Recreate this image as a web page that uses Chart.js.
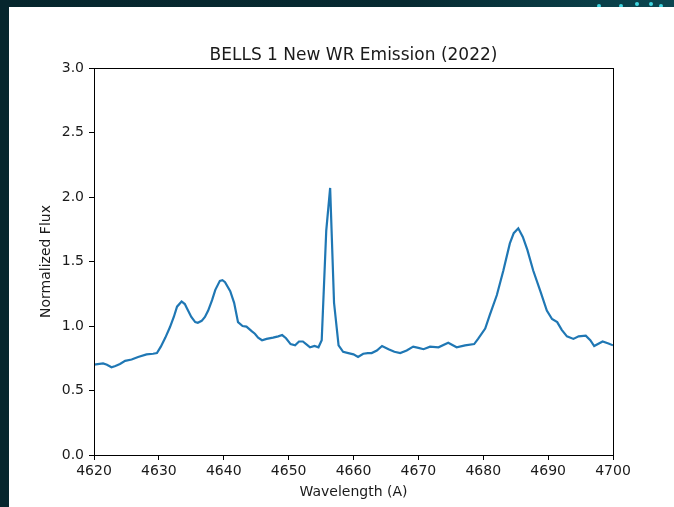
<!DOCTYPE html>
<html>
<head>
<meta charset="utf-8">
<script src="https://cdn.jsdelivr.net/npm/chart.js@4/dist/chart.umd.min.js"></script>
<style>
  html, body { margin: 0; padding: 0; }
  body {
    width: 674px; height: 507px; overflow: hidden; position: relative;
    background: linear-gradient(90deg, #06262d 0%, #072a31 60%, #0b4650 100%);
  }
  .dot { position: absolute; width: 4px; height: 4px; border-radius: 50%; background: #3fd6e0; }
  #panel { position: absolute; left: 9px; top: 7px; width: 665px; height: 500px; background: #fff; }
  canvas { display: block; }
</style>
</head>
<body>
<div class="dot" style="left:597px;top:4px"></div>
<div class="dot" style="left:619px;top:4px"></div>
<div class="dot" style="left:635px;top:2px"></div>
<div class="dot" style="left:649px;top:2px"></div>
<div class="dot" style="left:659px;top:4px"></div>
<div id="panel"><canvas id="chart" width="665" height="500"></canvas></div>
<script>
// 数据
const wavelength = [
  4620.0, 4621.4, 4622.0, 4622.7, 4623.3, 4624.0, 4624.8, 4625.8, 4626.8, 4628.1,
  4629.1, 4629.7, 4630.3, 4631.0, 4631.7, 4632.3, 4632.8, 4633.5, 4634.0, 4634.3,
  4635.0, 4635.6, 4636.0, 4636.6, 4637.1, 4637.6, 4638.2, 4638.7, 4639.4, 4639.8,
  4640.2, 4641.0, 4641.6, 4642.2, 4642.9, 4643.5, 4644.3, 4644.8, 4645.3, 4645.9,
  4646.6, 4647.6, 4648.4, 4649.0, 4649.6, 4650.3, 4651.0, 4651.6, 4652.2, 4652.7,
  4653.3, 4654.0, 4654.6, 4655.1, 4655.8, 4656.4, 4657.0, 4657.7, 4658.4, 4659.2,
  4660.0, 4660.7, 4661.5, 4662.2, 4662.8, 4663.6, 4664.4, 4665.4, 4666.3, 4667.2,
  4668.2, 4669.2, 4670.0, 4670.8, 4671.8, 4673.1, 4674.6, 4675.9, 4677.2, 4678.6,
  4679.2, 4680.3, 4681.0, 4682.1, 4683.1, 4684.1, 4684.7, 4685.4, 4686.1, 4686.8,
  4687.7, 4688.8, 4689.8, 4690.6, 4691.4, 4692.1, 4692.9, 4693.9, 4694.7, 4695.8,
  4696.5, 4697.1, 4698.4, 4699.3, 4700.0
]
const flux = [
  0.70, 0.71, 0.70, 0.68, 0.69, 0.705, 0.73, 0.74, 0.76, 0.78,
  0.785, 0.79, 0.84, 0.91, 0.99, 1.07, 1.15, 1.19, 1.17, 1.14,
  1.07, 1.03, 1.025, 1.04, 1.07, 1.12, 1.20, 1.28, 1.35, 1.355,
  1.34, 1.27, 1.18, 1.03, 1.00, 0.995, 0.96, 0.94, 0.91, 0.89,
  0.90, 0.91, 0.92, 0.93, 0.905, 0.86, 0.85, 0.88, 0.88, 0.86,
  0.835, 0.845, 0.835, 0.89, 1.74, 2.07, 1.18, 0.85, 0.80, 0.79,
  0.78, 0.76, 0.785, 0.79, 0.79, 0.81, 0.845, 0.82, 0.80, 0.79,
  0.81, 0.84, 0.83, 0.82, 0.84, 0.835, 0.87, 0.835, 0.85, 0.86,
  0.90, 0.98, 1.085, 1.24, 1.43, 1.64, 1.72, 1.757, 1.69, 1.59,
  1.43, 1.27, 1.12, 1.054, 1.03, 0.97, 0.92, 0.90, 0.92, 0.925,
  0.89, 0.845, 0.88, 0.865, 0.85
]
const xTicks = [4620, 4630, 4640, 4650, 4660, 4670, 4680, 4690, 4700]
const yTicks = [0.0, 0.5, 1.0, 1.5, 2.0, 2.5, 3.0]

const font = 'DejaVu Sans'
const textColor = '#1a1a1a'

// 画图区边框
const frame = {
  id: 'frame',
  afterDraw(chart) {
    const { ctx, chartArea: a } = chart
    ctx.save()
    ctx.strokeStyle = '#000'
    ctx.lineWidth = 1
    ctx.strokeRect(Math.round(a.left) + 0.5, Math.round(a.top) + 0.5,
      Math.round(a.right - a.left), Math.round(a.bottom - a.top))
    ctx.restore()
  }
}

new Chart(document.getElementById('chart'), {
  type: 'line',
  data: {
    datasets: [{
      data: wavelength.map((w, i) => ({ x: w, y: flux[i] })),
      borderColor: '#1f77b4',
      borderWidth: 2.2,
      pointRadius: 0,
      tension: 0,
      fill: false
    }]
  },
  options: {
    responsive: false,
    animation: false,
    devicePixelRatio: 1,
    layout: { padding: { left: 0, right: 61, top: 0, bottom: 0 } },
    plugins: {
      legend: { display: false },
      tooltip: { enabled: false },
      title: {
        display: true,
        text: 'BELLS 1 New WR Emission (2022)',
        fullSize: false,
        color: textColor,
        font: { family: font, size: 17, weight: 'normal' },
        padding: { top: 38.6, bottom: 2 }
      }
    },
    scales: {
      x: {
        type: 'linear',
        min: xTicks[0],
        max: xTicks[xTicks.length - 1],
        afterBuildTicks: s => { s.ticks = xTicks.map(v => ({ value: v })) },
        afterFit: s => { s.height = 52 },
        border: { display: false },
        grid: { drawOnChartArea: false, drawTicks: true, tickLength: 5, color: '#000' },
        ticks: {
          color: textColor, padding: 3, maxRotation: 0, autoSkip: false,
          font: { family: font, size: 14 },
          callback: v => String(v)
        },
        title: {
          display: true, text: 'Wavelength (A)', color: textColor,
          font: { family: font, size: 14 },
          padding: { top: 0, bottom: 6 }
        }
      },
      y: {
        min: yTicks[0],
        max: yTicks[yTicks.length - 1],
        afterBuildTicks: s => { s.ticks = yTicks.map(v => ({ value: v })) },
        afterFit: s => { s.width = 85 },
        border: { display: false },
        grid: { drawOnChartArea: false, drawTicks: true, tickLength: 5, color: '#000' },
        ticks: {
          color: textColor, padding: 5, autoSkip: false,
          font: { family: font, size: 14 },
          callback: v => Number(v).toFixed(1)
        },
        title: {
          display: true, text: 'Normalized Flux', color: textColor,
          font: { family: font, size: 14 },
          padding: { top: 28.6, bottom: 0 }
        }
      }
    }
  },
  plugins: [frame]
})
</script>
</body>
</html>
